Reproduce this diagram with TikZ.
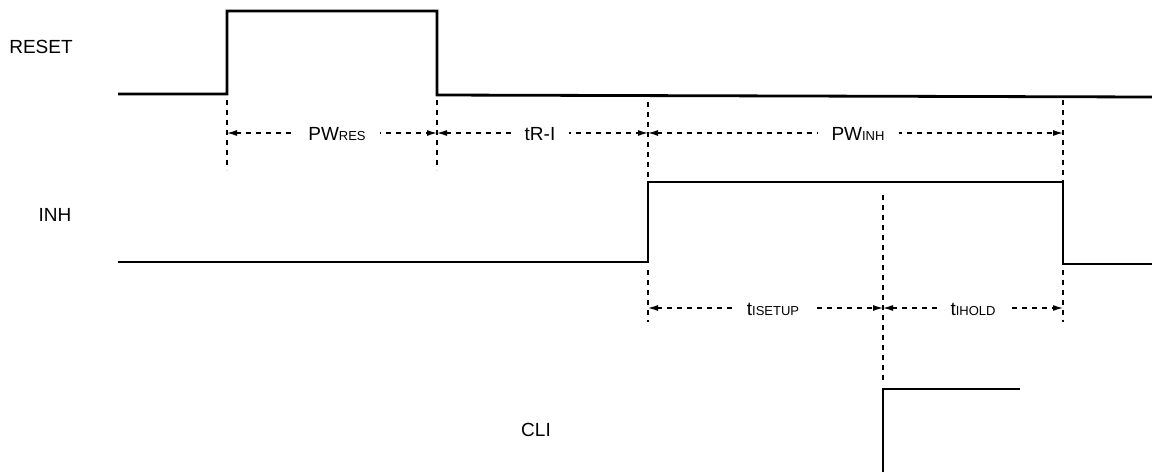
\documentclass[tikz,border=0pt]{standalone}
\usepackage{fontspec}
\setmainfont{Liberation Sans}
\usetikzlibrary{arrows.meta}
\newcommand\subsc[1]{{\fontsize{13}{13}\selectfont #1}}
\begin{document}
\begin{tikzpicture}[x=1pt,y=-1pt,
  sig/.style={line width=2.8pt, line join=miter},
  guide/.style={line width=1.2pt, dash pattern=on 5pt off 5pt},
  dim/.style={guide, {Latex[length=10pt,width=6pt]}-{Latex[length=10pt,width=6pt]}},
  lbl/.style={font=\fontsize{19}{22}\selectfont, inner sep=3pt},
  dimlbl/.style={lbl, fill=white, inner xsep=14pt}]
\useasboundingbox (0,0) rectangle (1152,472);

% RESET
\node[lbl] (lreset) at (41,47) {RESET};
\coordinate (r0) at (118,94);
\coordinate (r1) at (227,94);
\coordinate (r2) at (227,11);
\coordinate (r3) at (437,11);
\coordinate (r4) at (437,95);
\coordinate (r5) at (1152,97);
\draw[sig] (r0) -- (r1) -- (r2) -- (r3) -- (r4) -- (r5);

% INH
\node[lbl] (linh) at (55,215) {INH};
\coordinate (i0) at (118,262);
\coordinate (i1) at (648,262);
\coordinate (i2) at (648,182);
\coordinate (i3) at (1063,182);
\coordinate (i4) at (1063,264);
\coordinate (i5) at (1152,264);
\draw[sig] (i0) -- (i1) -- (i2) -- (i3) -- (i4) -- (i5);

% CLI
\node[lbl] (lcl) at (536,430) {CLI};
\coordinate (c0) at (883,472);
\coordinate (c1) at (883,389);
\coordinate (c2) at (1020,389);
\draw[sig] (c0) -- (c1) -- (c2);

% guide lines
\coordinate (ga1) at (227,100); \coordinate (ga2) at (227,170);
\coordinate (gb1) at (437,100); \coordinate (gb2) at (437,170);
\coordinate (gc1) at (648,102);
\coordinate (gd1) at (1063,100);
\coordinate (ge1) at (648,270); \coordinate (ge2) at (648,322);
\coordinate (gf1) at (1063,270); \coordinate (gf2) at (1063,322);
\coordinate (gg1) at (883,195); \coordinate (gg2) at (883,382);
\draw[guide] (ga1) -- (ga2);
\draw[guide] (gb1) -- (gb2);
\draw[guide] (gc1) -- (i2);
\draw[guide] (gd1) -- (i3);
\draw[guide] (ge1) -- (ge2);
\draw[guide] (gf1) -- (gf2);
\draw[guide] (gg1) -- (gg2);

% dimension arrows (upper)
\coordinate (da) at (227,133); \coordinate (db) at (437,133);
\coordinate (dc) at (648,133); \coordinate (dd) at (1063,133);
\draw[dim] (da) -- (db);
\draw[dim] (db) -- (dc);
\draw[dim] (dc) -- (dd);
\node[dimlbl] (pwres) at (337,134) {PW\subsc{RES}};
\node[dimlbl] (tri) at (540,134) {tR-I};
\node[dimlbl] (pwinh) at (858,134) {PW\subsc{INH}};

% dimension arrows (lower)
\coordinate (de) at (648,308); \coordinate (df) at (883,308);
\coordinate (dg) at (1063,308);
\draw[dim] (de) -- (df);
\draw[dim] (df) -- (dg);
\node[dimlbl] (tsetup) at (773,309) {t\subsc{ISETUP}};
\node[dimlbl] (thold) at (973,309) {t\subsc{IHOLD}};
\end{tikzpicture}
\end{document}
